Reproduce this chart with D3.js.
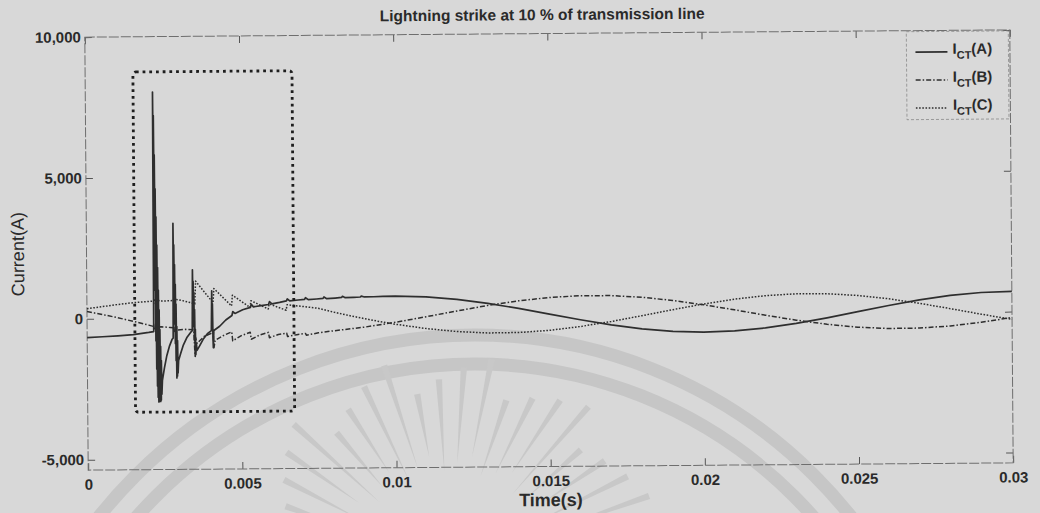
<!DOCTYPE html>
<html>
<head>
<meta charset="utf-8">
<script src="https://cdn.jsdelivr.net/npm/d3@7"></script>
<style>
  html, body { margin: 0; padding: 0; background: #d8d8d8; }
  svg { display: block; }
  text { font-family: "Liberation Sans", Arial, sans-serif; fill: #2a2a2a; }
</style>
</head>
<body>
<svg id="chart" width="1040" height="513"></svg>
<script>
// ---- axis ticks -----------------------------------------------------------
const xTicks = [0, 0.005, 0.01, 0.015, 0.02, 0.025, 0.03];
const xTickLabels = ["0", "0.005", "0.01", "0.015", "0.02", "0.025", "0.03"];
const yTicks = [-5000, 0, 5000, 10000];
const yTickLabels = ["-5,000", "0", "5,000", "10,000"];

// ---- series: [time (s), current (A)] --------------------------------------
const seriesPhases = ["A", "B", "C"];

const currentA = [
  [0, -665], [0.0005, -640], [0.0010, -610], [0.0015, -570], [0.0020, -500], [0.00216, -470],
  // first strike front and ringing
  [0.00218, 8030], [0.00219, 3000], [0.00220, 7200], [0.00221, 1000], [0.00222, 5800],
  [0.00223, -800], [0.00224, 4600], [0.00225, -1800], [0.00226, 3600], [0.00227, -2400],
  [0.00228, 2600], [0.00229, -2800], [0.00230, 1800], [0.00231, -2970], [0.00232, 1000],
  [0.00233, -2950], [0.00234, 300], [0.00235, -2900], [0.00236, -400], [0.00237, -2950],
  [0.00238, -1000], [0.00239, -2900], [0.00240, -1500], [0.00241, -2700], [0.00243, -2200],
  [0.00250, -1750], [0.00258, -1320], [0.00267, -980], [0.00275, -760], [0.00279, -700],
  // second reflection
  [0.00281, 3370], [0.00282, 800], [0.00283, 2600], [0.00284, -200], [0.00285, 1900],
  [0.00286, -900], [0.00287, 1200], [0.00288, -1500], [0.00289, 500], [0.00290, -2120],
  [0.00291, -300], [0.00292, -2050], [0.00293, -800], [0.00294, -1950], [0.00296, -1500],
  [0.00303, -1250], [0.00312, -950], [0.00324, -680], [0.00338, -480], [0.00341, -450],
  // third reflection
  [0.00343, 1710], [0.00344, 300], [0.00345, 1300], [0.00346, -300], [0.00347, 900],
  [0.00348, -800], [0.00349, 300], [0.00350, -1360], [0.00351, -400], [0.00352, -1300],
  [0.00354, -900], [0.00356, -1150],
  [0.00364, -1000], [0.00376, -760], [0.00390, -560], [0.00403, -450],
  // fourth reflection
  [0.00405, 960], [0.00406, 100], [0.00407, 500], [0.00408, -700], [0.00409, -1060], [0.00411, -450],
  [0.00430, -300], [0.00450, -80], [0.00470, 80], [0.00473, 220], [0.00480, 150],
  [0.00505, 280], [0.00530, 360], [0.00533, 470], [0.00540, 380], [0.00565, 420],
  [0.00589, 460], [0.00592, 560], [0.00600, 480], [0.00625, 530], [0.00647, 580],
  [0.00650, 650], [0.00658, 580], [0.00685, 610], [0.00706, 630], [0.00709, 690],
  [0.00718, 620], [0.00745, 640], [0.00766, 660], [0.00769, 710], [0.00778, 650],
  [0.00805, 670], [0.00826, 690], [0.00829, 730], [0.00838, 680], [0.00865, 690],
  [0.00887, 700], [0.00890, 730], [0.00900, 700], [0.00930, 705], [0.00960, 712],
  [0.0100, 720], [0.0110, 687], [0.0120, 590], [0.0130, 440], [0.0140, 250], [0.0150, 40],
  [0.0160, -170], [0.0170, -360], [0.0180, -510], [0.0190, -607], [0.0200, -640],
  [0.0210, -607], [0.0220, -510], [0.0230, -360], [0.0240, -170], [0.0250, 40],
  [0.0260, 250], [0.0270, 440], [0.0280, 590], [0.0290, 687], [0.0300, 720]
];

const currentB = [
  [0, 260], [0.0005, 150], [0.0010, 30], [0.0015, -100], [0.0020, -240], [0.00216, -290],
  [0.00219, -420], [0.00222, -200], [0.00226, -330], [0.00240, -300], [0.00270, -330],
  [0.00280, -340], [0.00283, -520], [0.00286, -300], [0.00290, -420], [0.00320, -400],
  [0.00346, -420], [0.00349, -1250], [0.00352, -700], [0.00356, -900], [0.00380, -650],
  [0.00409, -520], [0.00411, -1060], [0.00415, -800], [0.00440, -640], [0.00469, -500],
  [0.00472, -820], [0.00500, -640], [0.00529, -520], [0.00532, -770], [0.00560, -620],
  [0.00588, -530], [0.00591, -720], [0.00620, -610], [0.00647, -560], [0.00650, -680],
  [0.00680, -620], [0.00708, -580], [0.00711, -640], [0.0075, -560],
  [0.0080, -492], [0.0090, -371], [0.0100, -208], [0.0110, -19], [0.0120, 178],
  [0.0130, 364], [0.0140, 519], [0.0150, 630], [0.0160, 685], [0.0170, 679],
  [0.0180, 612], [0.0190, 491], [0.0200, 328], [0.0210, 139], [0.0220, -58],
  [0.0230, -244], [0.0240, -399], [0.0250, -510], [0.0260, -565], [0.0270, -559],
  [0.0280, -492], [0.0290, -371], [0.0300, -208]
];

const currentC = [
  [0, 360], [0.0005, 430], [0.0010, 500], [0.0015, 560], [0.0020, 600], [0.00216, 615],
  [0.00219, 700], [0.00222, 520], [0.00226, 650], [0.00240, 610], [0.00270, 620],
  [0.00280, 630], [0.00283, 720], [0.00286, 560], [0.00290, 660], [0.00310, 620],
  [0.00335, 550], [0.00350, 500], [0.00353, 1310], [0.00409, 540], [0.00412, 1040],
  [0.00469, 420], [0.00472, 800], [0.00529, 360], [0.00532, 600], [0.00588, 300],
  [0.00591, 480], [0.00646, 250], [0.00649, 445], [0.0070, 380], [0.0075, 310],
  [0.0080, 170], [0.0085, 45], [0.0090, -70], [0.0095, -180], [0.0100, -277],
  [0.0110, -439], [0.0120, -554], [0.0130, -612], [0.0140, -605], [0.0150, -536],
  [0.0160, -410], [0.0170, -240], [0.0180, -42], [0.0190, 163], [0.0200, 357],
  [0.0210, 519], [0.0220, 634], [0.0230, 692], [0.0240, 685], [0.0250, 616],
  [0.0260, 490], [0.0270, 320], [0.0280, 122], [0.0290, -83], [0.0300, -277]
];

// highlighted strike window (time span and current span)
const windowTime = [0.00155, 0.00671];
const windowCurrent = [-3330, 8750];

// ---- layout ---------------------------------------------------------------
const svg = d3.select("#chart");
const W = 1040, H = 513;
const plotLeft = 86.5, plotRight = 1011.5, plotTop = 33.5, plotBottom = 466.5;

const x = d3.scaleLinear().domain([0, 0.03]).range([plotLeft, plotRight]);
const y = d3.scaleLinear().domain([-5370, 10000]).range([plotBottom, plotTop]);

svg.append("rect").attr("width", W).attr("height", H).attr("fill", "#d8d8d8");

// faint emblem printed behind the figure
const emblem = svg.append("g").attr("fill", "none").attr("stroke", "#c6c6c6");
[480, 451].forEach(r => {
  emblem.append("circle").attr("cx", 475).attr("cy", 815).attr("r", r).attr("stroke-width", 13);
});
const rayCenter = [450, 566];
d3.range(200, 348, 7.4).forEach((deg, i) => {
  const a = deg * Math.PI / 180;
  const r0 = 95 + (i % 3) * 8, r1 = 175 + (i % 4) * 12;
  const w = 3.2;
  const nx = -Math.sin(a), ny = Math.cos(a);
  const p0 = [rayCenter[0] + r0 * Math.cos(a), rayCenter[1] + r0 * Math.sin(a)];
  const p1 = [rayCenter[0] + r1 * Math.cos(a), rayCenter[1] + r1 * Math.sin(a)];
  emblem.append("path")
    .attr("d", `M${p0[0]},${p0[1]} L${p1[0] + nx * w},${p1[1] + ny * w} L${p1[0] - nx * w},${p1[1] - ny * w} Z`)
    .attr("fill", "#c8c8c8").attr("stroke", "none");
});

// main figure, slightly tilted like the printed page
const fig = svg.append("g").attr("transform", "rotate(-0.45 550 250)");

// axes with inward ticks on all four sides
const axisFont = g => g.selectAll("text")
  .style("font-size", "15px").style("font-weight", "bold").attr("fill", "#2a2a2a");
const axisLine = g => {
  g.select(".domain").remove();
  g.selectAll(".tick line").attr("stroke", "#555").attr("stroke-width", 1);
};

fig.append("g").attr("transform", `translate(0,${plotBottom})`)
  .call(d3.axisBottom(x).tickValues(xTicks).tickFormat((d, i) => xTickLabels[i])
    .tickSize(-7).tickPadding(9))
  .call(axisLine).call(axisFont);

fig.append("g").attr("transform", `translate(0,${plotTop})`)
  .call(d3.axisTop(x).tickValues(xTicks).tickFormat("").tickSize(-7))
  .call(axisLine);

fig.append("g").attr("transform", `translate(${plotLeft},0)`)
  .call(d3.axisLeft(y).tickValues(yTicks).tickFormat((d, i) => yTickLabels[i])
    .tickSize(-7).tickPadding(4))
  .call(axisLine).call(axisFont);

fig.append("g").attr("transform", `translate(${plotRight},0)`)
  .call(d3.axisRight(y).tickValues(yTicks).tickFormat("").tickSize(-7))
  .call(axisLine);

fig.append("rect")
  .attr("x", plotLeft).attr("y", plotTop)
  .attr("width", plotRight - plotLeft).attr("height", plotBottom - plotTop)
  .attr("fill", "none").attr("stroke", "#6e6e6e").attr("stroke-width", 1)
  .attr("stroke-dasharray", "10,2");

// current traces
const line = d3.line().x(d => x(d[0])).y(d => y(d[1]));
const traces = [
  { data: currentA, dash: null, width: 1.7 },
  { data: currentB, dash: "5,2,1.5,2", width: 1.5 },
  { data: currentC, dash: "1.6,1.6", width: 1.5 }
];
traces.forEach(s => {
  fig.append("path").datum(s.data)
    .attr("d", line)
    .attr("fill", "none")
    .attr("stroke", "#2e2e2e")
    .attr("stroke-width", s.width)
    .attr("stroke-linejoin", "round")
    .attr("stroke-dasharray", s.dash);
});

// dotted window around the strike transient
fig.append("rect")
  .attr("x", x(windowTime[0])).attr("y", y(windowCurrent[1]))
  .attr("width", x(windowTime[1]) - x(windowTime[0]))
  .attr("height", y(windowCurrent[0]) - y(windowCurrent[1]))
  .attr("rx", 3)
  .attr("fill", "none").attr("stroke", "#1e1e1e")
  .attr("stroke-width", 2.8).attr("stroke-dasharray", "2.8,3.9");

// titles
fig.append("text").attr("x", 544).attr("y", 20).attr("text-anchor", "middle")
  .style("font-size", "15.5px").style("font-weight", "bold")
  .text("Lightning strike at 10 % of transmission line");

fig.append("text").attr("x", 549).attr("y", 506).attr("text-anchor", "middle")
  .style("font-size", "18px").style("font-weight", "bold")
  .text("Time(s)");

fig.append("text")
  .attr("transform", "translate(24,250) rotate(-90)")
  .attr("text-anchor", "middle")
  .style("font-size", "18px")
  .text("Current(A)");

// legend
const legend = fig.append("g");
legend.append("rect")
  .attr("x", 908).attr("y", plotTop + 1).attr("width", 102).attr("height", 88)
  .attr("fill", "#d9d9d9").attr("stroke", "#8a8a8a").attr("stroke-width", 0.8)
  .attr("stroke-dasharray", "3,2");
seriesPhases.forEach((p, i) => {
  const ly = 55 + i * 28;
  legend.append("line")
    .attr("x1", 917).attr("x2", 949).attr("y1", ly).attr("y2", ly)
    .attr("stroke", "#2e2e2e").attr("stroke-width", traces[i].width)
    .attr("stroke-dasharray", traces[i].dash);
  const t = legend.append("text").attr("x", 954).attr("y", ly + 2)
    .style("font-size", "15px").style("font-weight", "bold");
  t.append("tspan").text("I");
  t.append("tspan").attr("dy", 5).style("font-size", "11px").text("CT");
  t.append("tspan").attr("dy", -5).text(`(${p})`);
});
</script>
</body>
</html>
